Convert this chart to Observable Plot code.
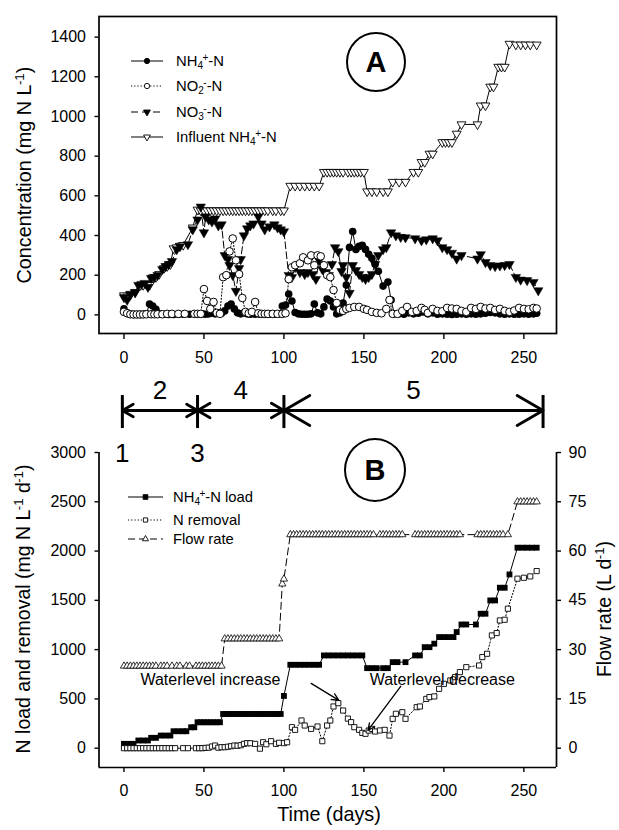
<!DOCTYPE html>
<html>
<head>
<meta charset="utf-8">
<script src="https://cdn.jsdelivr.net/npm/d3@7"></script>
<script src="https://cdn.jsdelivr.net/npm/@observablehq/plot@0.6"></script>
<style>
html,body{margin:0;padding:0;background:#fff;}
#wrap{position:relative;width:619px;height:830px;overflow:hidden;font-family:"Liberation Sans",Arial,Helvetica,sans-serif;color:#000;background:#fff;}
#wrap > svg{position:absolute;left:0;}
.lbl{position:absolute;white-space:nowrap;line-height:1;}
.rot{transform:translate(-50%,-50%) rotate(-90deg);}
.mid{transform:translate(-50%,-50%);}
.leg{transform:translateY(-50%);font-size:14.8px;}
.sub{font-size:0.68em;position:relative;top:0.32em;}
.sup{font-size:0.68em;position:relative;top:-0.5em;margin-left:-0.05em;}
.circ{position:absolute;box-sizing:border-box;border:2.5px solid #000;border-radius:50%;display:flex;align-items:center;justify-content:center;font-weight:bold;font-size:29px;}
</style>
</head>
<body>
<div id="wrap"></div>
<script>
// ---------- data: panel A (mg N/L) [day, value] ----------
const influentNH4 = [
[0,98],[2,92],[4,100],[7,115],[10,148],[12,150],[14,155],[16,150],[18,188],[20,190],[22,205],[25,235],[27,245],[29,255],[31,335],[33,340],[35,348],[37,352],[43,440],[46,530],
[48,526],[50,526],[52,526],[54,526],[56,526],[58,526],[60,526],[62,526],[64,526],[66,526],[68,526],[70,526],[72,526],[74,526],[76,526],[78,526],[80,526],[82,526],[84,526],[86,526],[88,526],[90,526],[93,526],[95,526],[98,526],[100,526],
[104,650],[107,650],[110,650],[113,650],[116,650],[119,650],[122,650],
[125,720],[127,720],[129,720],[131,720],[133,720],[135,720],[137,720],[140,720],[142,720],[144,720],[146,720],[148,720],[150,720],
[152,622],[155,622],[158,622],[162,622],[165,622],
[168,670],[172,670],[176,670],[181,720],[184,720],[186,770],[188,770],[191,812],[193,812],[199,870],[201,870],[203,870],[205,870],[208,913],[211,960],[221,960],[223,1055],[226,1055],[229,1150],[231,1150],[234,1250],[236,1250],[238,1250],[241,1366],[245,1362],[248,1362],[251,1362],[254,1362],[258,1362]
];
const nh4 = [
[0,30],[2,10],[4,3],[6,2],[8,2],[10,2],[12,3],[14,5],[16,55],[18,45],[20,28],[22,5],[24,3],[26,3],[28,2],[31,2],[34,3],[37,3],[41,3],[45,3],[47,5],[49,5],[51,3],[53,5],[55,8],[57,5],[59,10],[61,8],[63,20],[65,45],[67,55],[69,30],[71,10],[73,5],[75,10],[77,5],[79,3],[82,3],[85,3],[88,3],[91,3],[94,3],[97,5],[99,45],[101,50],[103,105],[105,70],[107,12],[109,5],[111,3],[113,3],[115,3],[117,5],[119,55],[121,10],[123,5],[125,40],[127,80],[129,70],[131,40],[133,5],[135,10],[137,60],[139,150],[141,340],[143,420],[145,330],[147,345],[149,350],[151,330],[153,305],[155,285],[157,255],[159,220],[162,145],[165,165],[167,75],[169,5],[172,5],[175,3],[178,10],[181,5],[184,8],[187,15],[190,5],[193,10],[196,3],[199,5],[202,3],[205,2],[208,3],[211,5],[214,3],[217,5],[220,3],[223,5],[226,8],[229,12],[232,10],[235,5],[238,3],[241,5],[244,3],[247,3],[250,5],[253,3],[256,5],[258,8]
];
const no2 = [
[0,15],[2,8],[4,3],[6,2],[8,2],[10,2],[12,2],[14,3],[17,3],[19,3],[21,3],[24,3],[27,5],[30,5],[34,5],[38,5],[44,5],[46,5],[48,5],[50,130],[52,70],[54,30],[56,65],[58,10],[60,5],[62,190],[64,200],[66,320],[68,385],[70,275],[72,205],[74,85],[76,15],[78,8],[80,15],[82,65],[84,8],[86,5],[88,5],[90,5],[93,5],[96,5],[99,5],[101,8],[103,180],[105,240],[107,250],[110,260],[112,290],[115,275],[117,300],[119,250],[121,300],[123,295],[125,250],[127,200],[129,190],[131,125],[133,60],[135,25],[137,20],[139,30],[141,35],[144,40],[147,40],[150,30],[152,25],[155,15],[158,10],[161,8],[164,30],[166,75],[168,5],[171,5],[174,20],[177,40],[180,15],[183,20],[186,35],[188,25],[190,10],[193,30],[196,20],[199,18],[202,35],[205,32],[208,30],[211,20],[214,15],[217,35],[220,30],[223,40],[226,32],[229,35],[232,25],[235,30],[238,20],[241,15],[244,22],[247,35],[250,30],[253,28],[256,35],[258,32]
];
const no3 = [
[0,88],[2,75],[4,105],[7,112],[9,150],[11,155],[13,160],[15,140],[17,185],[19,190],[21,200],[24,230],[26,245],[28,255],[30,270],[33,330],[35,345],[40,355],[43,430],[46,480],[48,545],[50,415],[51,495],[53,480],[55,470],[57,485],[59,450],[61,455],[63,300],[65,280],[66,250],[68,200],[70,120],[72,235],[73,280],[75,400],[77,435],[79,450],[81,460],[84,495],[86,460],[88,430],[91,445],[94,455],[96,440],[98,430],[100,420],
[103,200],[105,190],[107,240],[110,215],[113,205],[115,215],[118,205],[120,180],[122,275],[124,230],[126,215],[128,200],[130,255],[132,340],[134,320],[136,220],[137,250],[139,190],[141,110],[143,250],[145,225],[147,205],[149,190],[151,180],[153,190],[155,205],[157,255],[159,300],[162,330],[164,340],[167,415],[170,400],[173,392],[176,390],[182,385],[186,375],[189,380],[193,385],[196,375],[199,340],[202,330],[205,312],[208,283],[211,300],[221,283],[223,305],[226,265],[229,250],[232,245],[235,248],[238,250],[241,255],[245,190],[248,177],[252,174],[256,165],[259,123]
];

// ---------- data: panel B ----------
const nh4Load = [ // mg N / L / d
[0,44],[3,44],[6,44],[9,78],[12,78],[15,78],[17,105],[20,105],[23,128],[26,128],[29,128],[31,172],[34,172],[37,172],[39,172],[42,212],[44,212],[46,263],[48,263],[50,263],[52,263],[54,263],[56,263],[58,263],[60,263],
[62,347],[64,347],[66,347],[68,347],[70,347],[72,347],[74,347],[76,347],[78,347],[80,347],[82,347],[84,347],[86,347],[88,347],[90,347],[92,347],[94,347],[96,347],[98,347],
[100,530],[104,846],[107,846],[110,846],[113,846],[116,846],[119,846],[122,846],
[125,941],[128,941],[131,941],[134,941],[137,941],[140,941],[143,941],[146,941],[149,941],
[152,812],[155,812],[158,812],[162,812],[165,812],
[168,873],[171,873],[176,873],[182,941],[185,941],[188,1025],[191,1025],[194,1060],[197,1127],[200,1127],[203,1127],[206,1127],[208,1178],[211,1255],[214,1255],[220,1255],[223,1364],[226,1364],[229,1499],[232,1499],[235,1628],[238,1628],[241,1763],[246,2034],[249,2034],[252,2034],[255,2034],[258,2034]
];
const nRemoval = [ // mg N / L / d
[0,0],[2,0],[4,0],[6,0],[8,0],[10,0],[12,0],[14,0],[16,0],[18,0],[20,0],[22,0],[24,0],[26,0],[28,0],[30,0],[32,0],[37,0],[40,0],[45,0],[47,0],[49,0],[51,3],[53,5],[55,17],[57,27],[59,5],[61,10],[63,10],[65,15],[67,20],[69,27],[71,25],[73,30],[75,44],[77,51],[79,50],[82,44],[85,-5],[87,61],[89,40],[92,71],[95,44],[97,55],[100,51],[102,60],
[105,213],[107,186],[111,281],[113,230],[117,196],[121,220],[124,71],[127,230],[129,281],[131,423],[134,457],[137,382],[140,300],[142,264],[144,213],[147,186],[149,155],[151,146],[153,179],[155,196],[157,169],[160,180],[163,186],[166,128],[168,298],[170,349],[174,365],[176,298],[183,416],[185,423],[189,500],[191,518],[194,525],[197,602],[200,653],[204,687],[207,721],[210,772],[214,822],[222,839],[224,924],[227,958],[230,1144],[233,1168],[235,1296],[238,1303],[240,1415],[246,1720],[250,1729],[254,1743],[258,1797]
];
const flowRate = [ // L / d
[0,25],[2,25],[4,25],[6,25],[8,25],[10,25],[12,25],[14,25],[16,25],[18,25],[20,25],[23,25],[25,25],[27,25],[30,25],[33,25],[35,25],[39,25],[41,25],[45,25],[47,25],[49,25],[51,25],[53,25],[55,25],[57,25],[59,25],[61,25],
[63,33.3],[65,33.3],[67,33.3],[69,33.3],[71,33.3],[73,33.3],[75,33.3],[77,33.3],[79,33.3],[81,33.3],[83,33.3],[85,33.3],[87,33.3],[89,33.3],[91,33.3],[93,33.3],[95,33.3],[97,33.3],
[99,50],[100,51.5],
[104,65],[106,65],[108,65],[110,65],[112,65],[114,65],[116,65],[118,65],[120,65],[122,65],[124,65],[126,65],[128,65],[130,65],[132,65],[134,65],[136,65],[138,65],[140,65],[142,65],[144,65],[146,65],[148,65],[150,65],[152,65],[154,65],[156,65],
[160,65],[162,65],[164,65],[166,65],[168,65],[170,65],[172,65],[174,65],
[182,65],[184,65],[186,65],[188,65],[190,65],[192,65],[194,65],[196,65],[198,65],[200,65],[202,65],[204,65],[206,65],[208,65],[210,65],
[221,65],[223,65],[225,65],[227,65],[229,65],[231,65],[233,65],[235,65],[237,65],[240,65],
[246,75],[248,75],[250,75],[252,75],[254,75],[256,75],[258,75]
];

// ---------- scales, ticks, phases, annotations ----------
const xDomain = [-15.6, 270.4];
const xTicks = [0, 50, 100, 150, 200, 250];
const concDomain = [-94, 1504];
const concTicks = [0, 200, 400, 600, 800, 1000, 1200, 1400];
const loadDomain = [-196, 3000];
const loadTicks = [0, 500, 1000, 1500, 2000, 2500, 3000];
const flowTicks = [0, 15, 30, 45, 60, 75, 90];
const flowFactor = loadTicks[loadTicks.length - 1] / flowTicks[flowTicks.length - 1];

const phaseBounds = [-1, 46, 100, 262];
const phaseNames = ["2", "4", "5"];
const boundaryNames = ["1", "3"];
const notes = [
  {label: "Waterlevel increase", day: 54, val: 689},
  {label: "Waterlevel decrease", day: 199, val: 689}
];
const noteArrows = [
  {x1: 117, y1: 658, x2: 134.4, y2: 485},
  {x1: 173, y1: 628, x2: 152.5, y2: 180}
];

// ---------- helpers ----------
const font = '"Liberation Sans", Arial, Helvetica, sans-serif';
const X = d => d[0], Y = d => d[1];
const triDown = {draw(c, size) {
  const y = -Math.sqrt(size / (Math.sqrt(3) * 3));
  c.moveTo(0, -2 * y); c.lineTo(-Math.sqrt(3) * y, y); c.lineTo(Math.sqrt(3) * y, y); c.closePath();
}};
const baseStyle = {fontFamily: font, fontSize: "16px", color: "#000", background: "transparent", overflow: "visible"};
const fmt = d3.format("d");

// ---------- panel A ----------
const panelA = Plot.plot({
  width: 619, height: 375,
  marginLeft: 98.5, marginRight: 63, marginTop: 16, marginBottom: 42,
  style: baseStyle,
  x: {domain: xDomain},
  y: {domain: concDomain},
  marks: [
    Plot.frame({stroke: "#000", strokeWidth: 1.7}),
    Plot.axisX({ticks: xTicks, tickSize: 6, tickPadding: 12, tickFormat: fmt, label: null, strokeWidth: 1.4, fontSize: 16}),
    Plot.axisY({ticks: concTicks, tickSize: 4, tickPadding: 9, tickFormat: fmt, label: null, strokeWidth: 1.4, fontSize: 16}),
    Plot.line(no3, {x: X, y: Y, stroke: "#000", strokeWidth: 1, strokeDasharray: "7,3"}),
    Plot.line(influentNH4, {x: X, y: Y, stroke: "#000", strokeWidth: 1}),
    Plot.line(no2, {x: X, y: Y, stroke: "#000", strokeWidth: 1, strokeDasharray: "1.2,2"}),
    Plot.line(nh4, {x: X, y: Y, stroke: "#000", strokeWidth: 1}),
    Plot.dot(influentNH4, {x: X, y: Y, symbol: triDown, r: 3.3, fill: "#fff", stroke: "#000", strokeWidth: 0.9}),
    Plot.dot(no3, {x: X, y: Y, symbol: triDown, r: 3.5, fill: "#000", stroke: "#000", strokeWidth: 0.5}),
    Plot.dot(nh4, {x: X, y: Y, r: 3.8, fill: "#000"}),
    Plot.dot(no2, {x: X, y: Y, r: 3.8, fill: "#fff", stroke: "#000", strokeWidth: 1})
  ]
});

// ---------- panel B ----------
const segs = d3.pairs(phaseBounds);
const phaseArrows = segs.flatMap(([a, b]) => [{from: (a + b) / 2, to: a}, {from: (a + b) / 2, to: b}]);
const yBarTop = 3578, yBarBot = 3243, yArrow = 3426, yPhaseLabel = 3629, yBoundLabel = 2990;

const panelB = Plot.plot({
  width: 619, height: 455,
  marginLeft: 98.5, marginRight: 63, marginTop: 77, marginBottom: 63,
  style: baseStyle,
  x: {domain: xDomain},
  y: {domain: loadDomain},
  marks: [
    Plot.ruleX(xDomain, {stroke: "#000", strokeWidth: 1.7}),
    Plot.ruleY([loadDomain[0]], {stroke: "#000", strokeWidth: 1.7}),
    Plot.axisX({ticks: xTicks, tickSize: 5, tickPadding: 12.5, tickFormat: fmt, label: null, strokeWidth: 1.4, fontSize: 16}),
    Plot.axisY({ticks: loadTicks, anchor: "left", tickSize: 4, tickPadding: 9, tickFormat: fmt, label: null, strokeWidth: 1.4, fontSize: 16}),
    Plot.axisY({ticks: loadTicks, anchor: "right", tickSize: 4, tickPadding: 8, tickFormat: d => fmt(Math.round(d / flowFactor)), label: null, strokeWidth: 1.4, fontSize: 16}),
    Plot.line(flowRate, {x: X, y: d => d[1] * flowFactor, stroke: "#000", strokeWidth: 1, strokeDasharray: "7,4"}),
    Plot.line(nh4Load, {x: X, y: Y, stroke: "#000", strokeWidth: 1}),
    Plot.line(nRemoval, {x: X, y: Y, stroke: "#000", strokeWidth: 1, strokeDasharray: "1.2,2"}),
    Plot.dot(flowRate, {x: X, y: d => d[1] * flowFactor, symbol: "triangle", r: 2.7, fill: "#fff", stroke: "#000", strokeWidth: 0.8}),
    Plot.dot(nh4Load, {x: X, y: Y, symbol: "square", r: 3.3, fill: "#000"}),
    Plot.dot(nRemoval, {x: X, y: Y, symbol: "square", r: 2.9, fill: "#fff", stroke: "#000", strokeWidth: 0.9}),
    // phase boundaries between the panels
    Plot.ruleX(phaseBounds, {y1: () => yBarBot, y2: () => yBarTop, stroke: "#000", strokeWidth: 3}),
    Plot.arrow(phaseArrows, {x1: "from", x2: "to", y1: () => yArrow, y2: () => yArrow, stroke: "#000", strokeWidth: 2.8, headLength: 16, headAngle: 60}),
    Plot.text(phaseNames, {x: (d, i) => (segs[i][0] + segs[i][1]) / 2, y: () => yPhaseLabel, fontSize: 26, fill: "#000"}),
    Plot.text(boundaryNames, {x: (d, i) => phaseBounds[i], y: () => yBoundLabel, fontSize: 26, fill: "#000"}),
    // annotations
    Plot.arrow(noteArrows, {x1: "x1", y1: "y1", x2: "x2", y2: "y2", stroke: "#000", strokeWidth: 1.3, headLength: 9, headAngle: 50}),
    Plot.text(notes, {x: "day", y: "val", text: "label", fontSize: 16, fill: "#000"})
  ]
});

const wrap = document.getElementById("wrap");
panelA.style.position = "absolute"; panelA.style.top = "0px"; panelA.style.left = "0px";
panelB.style.position = "absolute"; panelB.style.top = "375px"; panelB.style.left = "0px";
wrap.appendChild(panelA);
wrap.appendChild(panelB);

// ---------- overlay: legends, titles, panel letters ----------
const sub = s => `<span class="sub">${s}</span>`;
const sup = s => `<span class="sup">${s}</span>`;
function addLabel(html, cls, x, y, size) {
  const el = document.createElement("div");
  el.className = "lbl " + cls;
  el.style.left = x + "px"; el.style.top = y + "px";
  if (size) el.style.fontSize = size + "px";
  el.innerHTML = html;
  wrap.appendChild(el);
  return el;
}
addLabel(`Concentration (mg N L${sup("-1")})`, "rot", 25, 175, 19.8);
addLabel(`N load and removal (mg N L${sup("-1")} d${sup("-1")})`, "rot", 24, 609, 19.5);
addLabel(`Flow rate (L d${sup("-1")})`, "rot", 605, 609, 19.5);
addLabel(`Time (days)`, "mid", 329, 815, 19.8);

function addCircle(letter, cx, cy, w, h) {
  const el = document.createElement("div");
  el.className = "circ";
  el.style.left = (cx - w / 2) + "px"; el.style.top = (cy - h / 2) + "px";
  el.style.width = w + "px"; el.style.height = h + "px";
  el.textContent = letter;
  wrap.appendChild(el);
}
addCircle("A", 376, 62, 60, 60);
addCircle("B", 375, 470, 62, 64);

const legendA = [
  {html: `NH${sub("4")}${sup("+")}-N`, dash: null, sym: d3.symbolCircle, size: 22, fill: "#000", rot: 0},
  {html: `NO${sub("2")}${sup("-")}-N`, dash: "1.2,2", sym: d3.symbolCircle, size: 22, fill: "#fff", rot: 0},
  {html: `NO${sub("3")}${sup("-")}-N`, dash: "7,4", sym: d3.symbolTriangle, size: 20, fill: "#000", rot: 180},
  {html: `Influent NH${sub("4")}${sup("+")}-N`, dash: null, sym: d3.symbolTriangle, size: 20, fill: "#fff", rot: 180}
];
const legendB = [
  {html: `NH${sub("4")}${sup("+")}-N load`, dash: null, sym: d3.symbolSquare, size: 22, fill: "#000", rot: 0},
  {html: `N removal`, dash: "1.2,2", sym: d3.symbolSquare, size: 18, fill: "#fff", rot: 0},
  {html: `Flow rate`, dash: "7,4", sym: d3.symbolTriangle, size: 16, fill: "#fff", rot: 0}
];
const legendLayout = [
  {items: legendA, x1: 131, x2: 163, xt: 176, ys: [61, 86, 112, 137]},
  {items: legendB, x1: 128, x2: 163, xt: 173, ys: [497, 520, 539]}
];
const ov = d3.create("svg").attr("width", 619).attr("height", 830)
  .style("position", "absolute").style("top", "0px").style("left", "0px").style("pointer-events", "none");
for (const L of legendLayout) {
  L.items.forEach((it, i) => {
    const y = L.ys[i], xm = (L.x1 + L.x2) / 2;
    ov.append("line").attr("x1", L.x1).attr("x2", L.x2).attr("y1", y).attr("y2", y)
      .attr("stroke", "#000").attr("stroke-width", 1).attr("stroke-dasharray", it.dash);
    ov.append("path").attr("d", d3.symbol(it.sym, it.size)())
      .attr("transform", `translate(${xm},${y}) rotate(${it.rot})`)
      .attr("fill", it.fill).attr("stroke", "#000").attr("stroke-width", 0.9);
    addLabel(it.html, "leg", L.xt, y);
  });
}
wrap.appendChild(ov.node());
</script>
</body>
</html>
